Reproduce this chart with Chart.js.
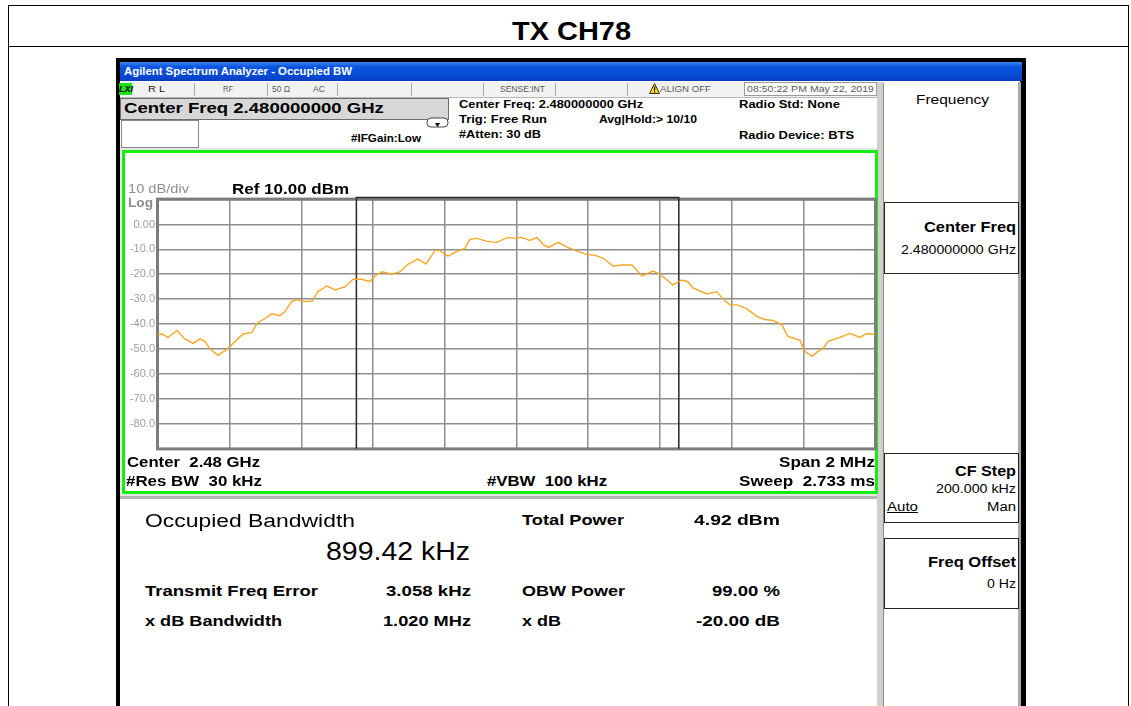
<!DOCTYPE html>
<html>
<head>
<meta charset="utf-8">
<script src="https://cdn.jsdelivr.net/npm/chart.js@4.4.1/dist/chart.umd.min.js"></script>
<style>
  body { margin:0; width:1131px; height:706px; overflow:hidden; background:#fff; position:relative;
         font-family:"Liberation Sans", Arial, sans-serif; }
  .a { position:absolute; }
  .t { position:absolute; white-space:nowrap; line-height:1; transform-origin:0 50%; transform:translateY(-50%); }
  .b { font-weight:bold; }
  .sb { color:#5a5a5a; font-size:9.5px; }
  .hd { font-weight:bold; font-size:11.5px; }
  .res { font-weight:bold; font-size:15px; }
  .sep { position:absolute; top:83px; width:1px; height:13px; background:#a8a8a8; }
  .key { position:absolute; left:884px; width:133px; border:1px solid #222; background:#fff; }
</style>
</head>
<body>

<!-- page frame -->
<div class="a" style="left:8px;top:5px;width:1119px;height:720px;border:1px solid #000;"></div>
<div class="a" style="left:8px;top:46px;width:1120px;height:1px;background:#000;"></div>
<div class="t b" data-w="119" style="left:512px;top:31px;font-size:26px;">TX CH78</div>

<!-- analyzer window -->
<div class="a" style="left:116px;top:58px;width:910px;height:660px;background:#000;"></div>
<div class="a" style="left:120px;top:62px;width:902px;height:19px;background:linear-gradient(#3f86f2 0%,#0b55e0 25%,#0548d4 75%,#0a3fbc 100%);"></div>
<div class="t b" data-w="228" style="left:124px;top:71px;font-size:11px;color:#fff;">Agilent Spectrum Analyzer - Occupied BW</div>
<div class="a" style="left:120px;top:81px;width:900px;height:625px;background:#fff;"></div>

<!-- status bar -->
<div class="a" style="left:120px;top:82px;width:758px;height:15px;background:#f2f2f2;border-bottom:1px solid #b8b8b8;"></div>
<div class="a" style="left:119px;top:83px;width:13px;height:12px;background:#1ee01e;"></div>
<div class="t b" style="left:119px;top:89px;font-size:9px;font-style:italic;color:#000;">LXI</div>
<div class="t sb" data-w="17" style="left:148px;top:89px;color:#222;">R L</div>
<div class="sep" style="left:194px;"></div>
<div class="t sb" data-w="10" style="left:223px;top:89px;">RF</div>
<div class="sep" style="left:267px;"></div>
<div class="t sb" data-w="18" style="left:272px;top:89px;">50 Ω</div>
<div class="t sb" data-w="12" style="left:313px;top:89px;">AC</div>
<div class="sep" style="left:337px;"></div>
<div class="sep" style="left:411px;"></div>
<div class="sep" style="left:483px;"></div>
<div class="t sb" data-w="45" style="left:500px;top:89px;">SENSE:INT</div>
<div class="sep" style="left:555px;"></div>
<div class="sep" style="left:627px;"></div>
<svg class="a" style="left:649px;top:83px;" width="11" height="11"><polygon points="5.5,0.5 10.5,10.5 0.5,10.5" fill="#ffd800" stroke="#333" stroke-width="1"/><rect x="5" y="3.5" width="1.2" height="4" fill="#000"/><rect x="5" y="8.4" width="1.2" height="1.2" fill="#000"/></svg>
<div class="t sb" data-w="51" style="left:660px;top:89px;">ALIGN OFF</div>
<div class="a" style="left:744px;top:82px;width:133px;height:14px;border:1px solid #9a9a9a;background:#fff;box-sizing:border-box;"></div>
<div class="t sb" data-w="127" style="left:747px;top:89px;">08:50:22 PM May 22, 2019</div>

<!-- header -->
<div class="a" style="left:120px;top:98px;width:329px;height:22px;background:#d7d7d7;border:1px solid #6c6c6c;box-sizing:border-box;"></div>
<div class="t b" data-w="260" style="left:124px;top:108px;font-size:15.5px;">Center Freq 2.480000000 GHz</div>
<div class="a" style="left:121px;top:120px;width:78px;height:28px;border:1px solid #8a8a8a;background:#fff;box-sizing:border-box;"></div>
<svg class="a" style="left:426px;top:117px;" width="23" height="13"><rect x="1" y="1" width="21" height="9" rx="4" fill="#fff" stroke="#444" stroke-width="1"/><polygon points="9,6 14,6 11.5,10" fill="#000"/></svg>
<div class="t hd" data-w="70" style="left:351px;top:138px;font-size:11px;">#IFGain:Low</div>
<div class="t hd" data-w="184" style="left:459px;top:105px;">Center Freq: 2.480000000 GHz</div>
<div class="t hd" data-w="88" style="left:459px;top:120px;">Trig: Free Run</div>
<div class="t hd" data-w="98" style="left:599px;top:120px;">Avg|Hold:&gt; 10/10</div>
<div class="t hd" data-w="82" style="left:459px;top:135px;">#Atten: 30 dB</div>
<div class="t hd" data-w="101" style="left:739px;top:105px;">Radio Std: None</div>
<div class="t hd" data-w="115" style="left:739px;top:136px;">Radio Device: BTS</div>

<!-- right softkey panel -->
<div class="a" style="left:877px;top:82px;width:6px;height:624px;background:#d4d0c8;"></div>
<div class="a" style="left:883px;top:83px;width:136px;height:623px;background:#fff;border-left:1px solid #888;"></div>
<div class="a" style="left:1018px;top:82px;width:3px;height:624px;background:#a8a8a8;"></div>
<div class="t" data-w="73" style="left:916px;top:99px;font-size:13px;">Frequency</div>
<div class="key" style="top:202px;height:70px;"></div>
<div class="t b" data-w="92" style="left:924px;top:227px;font-size:14px;">Center Freq</div>
<div class="t" data-w="115" style="left:901px;top:250px;font-size:12px;">2.480000000 GHz</div>
<div class="key" style="top:453px;height:68px;"></div>
<div class="t b" data-w="61" style="left:955px;top:471px;font-size:14px;">CF Step</div>
<div class="t" data-w="80" style="left:936px;top:489px;font-size:12px;">200.000 kHz</div>
<div class="t" data-w="31" style="left:887px;top:507px;font-size:12px;text-decoration:underline;">Auto</div>
<div class="t" data-w="29" style="left:987px;top:507px;font-size:12px;">Man</div>
<div class="key" style="top:538px;height:69px;"></div>
<div class="t b" data-w="88" style="left:928px;top:562px;font-size:14px;">Freq Offset</div>
<div class="t" data-w="29" style="left:987px;top:584px;font-size:12px;">0 Hz</div>

<!-- green plot frame -->
<div class="a" style="left:120px;top:148px;width:757px;height:349px;background:#e6e6e6;"></div>
<div class="a" style="left:122px;top:150px;width:756px;height:344px;border:3px solid #12ee12;background:#fff;box-sizing:border-box;"></div>
<canvas id="trace" class="a" width="756" height="268" style="left:122px;top:190px;"></canvas>
<div class="t" data-w="61" style="left:128px;top:189px;font-size:12px;color:#8e8e8e;">10 dB/div</div>
<div class="t b" data-w="25" style="left:128px;top:203px;font-size:12px;color:#8e8e8e;">Log</div>
<div class="t b" data-w="117" style="left:232px;top:188px;font-size:15px;">Ref 10.00 dBm</div>
<div class="t b" data-w="133" style="left:127px;top:461px;font-size:15px;">Center&nbsp; 2.48 GHz</div>
<div class="t b" data-w="136" style="left:126px;top:480px;font-size:15px;">#Res BW&nbsp; 30 kHz</div>
<div class="t b" data-w="120" style="left:487px;top:480px;font-size:15px;">#VBW&nbsp; 100 kHz</div>
<div class="t b" data-w="96" style="left:779px;top:461px;font-size:15px;">Span 2 MHz</div>
<div class="t b" data-w="136" style="left:739px;top:480px;font-size:15px;">Sweep&nbsp; 2.733 ms</div>

<!-- results -->
<div class="a" style="left:120px;top:496px;width:757px;height:3px;background:#b4b4b4;"></div>
<div class="t" data-w="210" style="left:145px;top:521px;font-size:18px;">Occupied Bandwidth</div>
<div class="t" data-w="144" style="left:326px;top:551px;font-size:26px;">899.42 kHz</div>
<div class="t res" data-w="173" style="left:145px;top:590px;">Transmit Freq Error</div>
<div class="t res" data-w="85" style="left:386px;top:590px;">3.058 kHz</div>
<div class="t res" data-w="137" style="left:145px;top:620px;">x dB Bandwidth</div>
<div class="t res" data-w="88" style="left:383px;top:620px;">1.020 MHz</div>
<div class="t res" data-w="102" style="left:522px;top:519px;">Total Power</div>
<div class="t res" data-w="86" style="left:694px;top:519px;">4.92 dBm</div>
<div class="t res" data-w="103" style="left:522px;top:590px;">OBW Power</div>
<div class="t res" data-w="68" style="left:712px;top:590px;">99.00 %</div>
<div class="t res" data-w="39" style="left:522px;top:620px;">x dB</div>
<div class="t res" data-w="84" style="left:696px;top:620px;">-20.00 dB</div>

<script>
// частота относительно центра 2.48 GHz, кГц
const freqOffsetKHz = [-1000,-989,-972,-947,-925,-902,-883,-869,-855,-833,-808,-785,-763,-738,-724,-702,-682,-660,-646,-626,
  -610,-590,-570,-554,-529,-506,-478,-456,-431,-409,-395,-375,-347,-325,-303,-275,-253,-227,-214,-191,
  -166,-144,-130,-110,-82,-55,-24,-4,15,37,57,74,90,116,143,171,196,219,241,269,
  297,322,350,381,400,420,436,461,478,492,531,559,576,595,615,643,671,693,715,740,
  757,791,804,824,841,855,869,902,930,958,977,1000];
// уровень трассы, dBm
const traceDbm = [-44.2,-44,-45.4,-42.6,-46,-47.8,-46,-47,-50,-52.6,-50.2,-47,-44,-43.4,-39.8,-37.8,-35.9,-36.7,-35,-30.7,
  -30.3,-31,-30.7,-27,-24.7,-26.3,-25,-22,-22,-23,-20.7,-19,-20,-19,-16,-13.9,-15.9,-10.4,-10.4,-12.7,
  -10.8,-9.6,-6,-5.6,-6.8,-7.2,-5.2,-5.6,-5.2,-6.4,-5.2,-8,-9.2,-7.2,-9.2,-10.8,-12,-12.4,-13.5,-16.7,
  -16.3,-16.3,-20.7,-18.7,-20,-22.3,-24.3,-22.3,-23,-25.5,-27.9,-27,-29.9,-32.3,-32.3,-33.9,-37,-38.2,-38.6,-40.2,
  -45,-46.6,-51,-53,-51,-49.8,-47,-45.4,-43.8,-45.4,-43.8,-44.2];
// границы OBW (899.42 kHz, сдвиг 3.058 kHz)
const obwEdgesKHz = [-446.65, 452.77];
const yTickValues = [10, 0, -10, -20, -30, -40, -50, -60, -70, -80, -90];
const yTickLabels = ['', '0.00', '-10.0', '-20.0', '-30.0', '-40.0', '-50.0', '-60.0', '-70.0', '-80.0', ''];

// растягиваем тексты до ширины как на скриншоте
document.querySelectorAll('.t').forEach(el => {
  const w = +el.dataset.w;
  const k = w ? w / el.getBoundingClientRect().width : 1;
  el.style.transform = 'translateY(-50%) scaleX(' + k.toFixed(3) + ')';
});

// рамка графика и маркеры OBW
const analyzerMarks = {
  id: 'analyzerMarks',
  beforeDatasetsDraw(chart) {
    const { ctx, chartArea: a, scales: { x } } = chart;
    ctx.save();
    ctx.strokeStyle = '#7c7c7c';
    ctx.lineWidth = 3;
    ctx.strokeRect(a.left - 0.5, a.top - 0.5, a.right - a.left + 1, a.bottom - a.top + 1);
    const x1 = x.getPixelForValue(obwEdgesKHz[0]);
    const x2 = x.getPixelForValue(obwEdgesKHz[1]);
    ctx.strokeStyle = '#262626';
    ctx.lineWidth = 1.5;
    ctx.beginPath();
    ctx.moveTo(x1, a.bottom);
    ctx.lineTo(x1, a.top - 2);
    ctx.lineTo(x2, a.top - 2);
    ctx.lineTo(x2, a.bottom);
    ctx.stroke();
    ctx.restore();
  }
};

new Chart(document.getElementById('trace'), {
  type: 'line',
  data: {
    datasets: [{
      data: freqOffsetKHz.map((f, i) => ({ x: f, y: traceDbm[i] })),
      borderColor: '#f6a623',
      borderWidth: 1.4,
      pointRadius: 0,
      tension: 0
    }]
  },
  options: {
    responsive: false,
    animation: false,
    layout: { padding: { top: 8, right: 3, bottom: 4, left: 0 } },
    plugins: { legend: { display: false }, tooltip: { enabled: false } },
    scales: {
      x: {
        type: 'linear', min: -1000, max: 1000,
        ticks: { display: false, stepSize: 200 },
        grid: { color: '#8e8e8e', lineWidth: 1.5, drawTicks: false },
        border: { display: false },
        afterFit(s) { s.height = 0; }
      },
      y: {
        min: -90, max: 10,
        ticks: {
          stepSize: 10, padding: 3, color: '#9c9c9c',
          font: { family: 'Liberation Sans', size: 11 },
          callback: v => yTickLabels[yTickValues.indexOf(v)]
        },
        grid: { color: '#8e8e8e', lineWidth: 1.5, drawTicks: false },
        border: { display: false },
        afterFit(s) { s.width = 36; }
      }
    }
  },
  plugins: [analyzerMarks]
});
</script>
</body>
</html>
